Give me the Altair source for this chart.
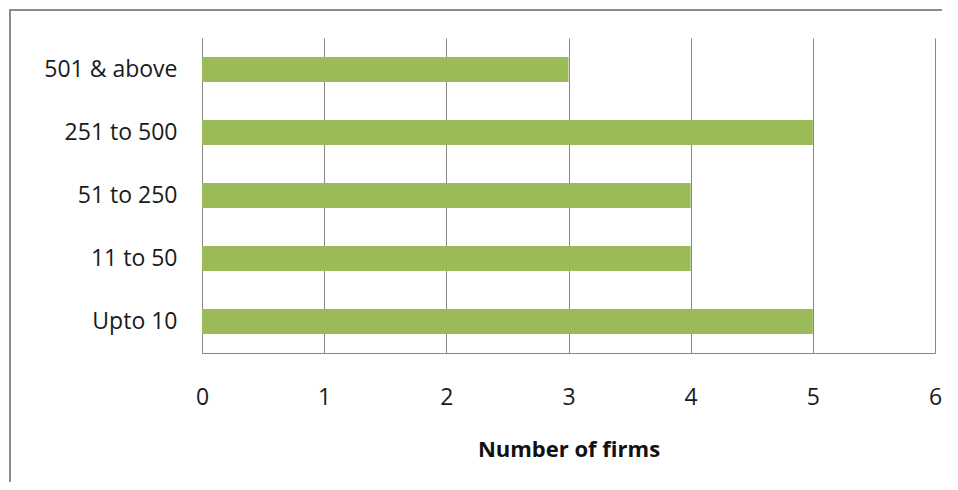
import altair as alt
import pandas as pd

categories = ["501 & above", "251 to 500", "51 to 250", "11 to 50", "Upto 10"]
firms = [3, 5, 4, 4, 5]
x_ticks = [0, 1, 2, 3, 4, 5, 6]

df = pd.DataFrame({"size": categories, "firms": firms})

GREY = "#888888"

bars = alt.Chart(df).mark_bar(color="#9BBB59").encode(
    x=alt.X("firms:Q",
            scale=alt.Scale(domain=[0, 6], nice=False),
            axis=alt.Axis(values=x_ticks, title="Number of firms", format="d",
                          labelPadding=44, labelBaseline="middle", labelFlush=False,
                          titleY=96, titleBaseline="middle",
                          ticks=False, grid=True)),
    y=alt.Y("size:N", sort=categories,
            scale=alt.Scale(paddingInner=0.6, paddingOuter=0.3),
            axis=alt.Axis(title=None, ticks=False, labelPadding=25, grid=False)),
)

frame_data = alt.Data(values=[{"a": 1}])
frame = alt.Chart(frame_data).mark_rule(color="#8c8c8c", strokeWidth=2)
top_rule = frame.encode(x=alt.value(-193), x2=alt.value(740), y=alt.value(-28))
left_rule = frame.encode(x=alt.value(-192), y=alt.value(-29), y2=alt.value(460))

chart = alt.layer(bars, top_rule, left_rule).properties(
    width=733, height=315,
    autosize=alt.AutoSizeParams(type="none"),
    padding={"left": 194, "top": 30, "right": 15, "bottom": 129},
).configure_view(stroke=None).configure_axis(
    labelFont="Open Sans", titleFont="Open Sans",
    labelFontSize=23, titleFontSize=22, titleFontWeight="bold",
    labelColor="#1a1a1a", titleColor="#111111",
    domainColor=GREY, gridColor=GREY, domainWidth=1, gridWidth=1,
)

chart.save("out.html", embed_options={"renderer": "svg", "actions": False})
